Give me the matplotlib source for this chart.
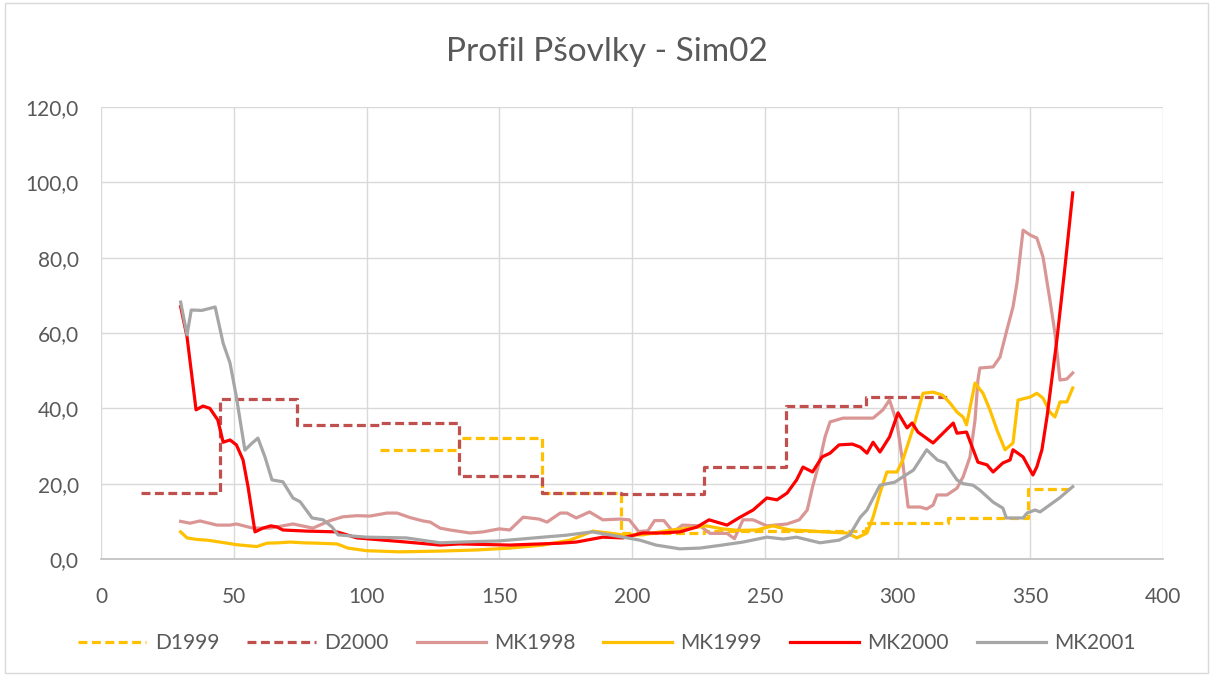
import matplotlib.pyplot as plt
from matplotlib.patches import Rectangle

plt.rcParams['font.family'] = ['Lato', 'DejaVu Sans']

# stepped series: start day of each level, level value
d1999_days = [105, 135, 166, 196, 227, 258, 288, 319, 349, 366]
d1999_vals = [28.9, 32.2, 17.5, 7.0, 7.5, 7.5, 9.5, 10.9, 18.5]
d2000_days = [15, 45, 74, 105, 135, 166, 196, 227, 258, 288, 319]
d2000_vals = [17.5, 42.5, 35.5, 36.0, 22.0, 17.5, 17.2, 24.5, 40.7, 43.0]

mk1998_x = [30, 33.5, 37.3, 43.7, 48.6, 51, 57.2, 63.7, 72.3, 79.8, 86.3, 91.1, 96.4, 101.3,
            107.7, 111.5, 116.4, 121.3, 124, 127.7, 131.5, 139, 143.9, 150, 154, 159, 165,
            168, 173, 175.5, 179, 184, 189, 195.5, 199, 202.5, 206, 208.5, 212, 215.5, 219,
            225.6, 229.4, 235.8, 238.6, 241.8, 245.6, 250.8, 258.4, 263, 266, 268, 270.8,
            272.7, 274.6, 279.5, 290.8, 294.5, 297, 299.8, 302, 304, 308.5, 311, 313.4,
            314.9, 318.6, 322.4, 324.7, 327.3, 329.2, 330.3, 331, 336, 338.6, 341.2, 343.5,
            345, 347.3, 350, 352.5, 354.8, 357.4, 359.3, 361.2, 363.8, 366]
mk1998_y = [10.0, 9.5, 10.1, 9.0, 9.0, 9.3, 8.2, 8.2, 9.3, 8.2, 10.2, 11.2, 11.5, 11.4,
            12.2, 12.2, 11.0, 10.1, 9.8, 8.2, 7.7, 6.9, 7.2, 8.0, 7.7, 11.1, 10.6,
            9.8, 12.2, 12.2, 10.9, 12.5, 10.4, 10.6, 10.4, 7.3, 7.5, 10.2, 10.2, 7.2, 9.0,
            8.8, 6.8, 6.8, 5.4, 10.4, 10.4, 8.8, 9.3, 10.4, 13.0, 19.1, 26.3,
            32.4, 36.4, 37.4, 37.4, 39.6, 42.2, 36.1, 25.5, 13.8, 13.8, 13.3, 14.3,
            17.0, 17.0, 18.8, 21.8, 27.1, 36.9, 47.5, 50.7, 51.0, 53.6, 60.8, 66.9,
            73.3, 87.3, 86.0, 85.2, 80.2, 68.8, 60.0, 47.5, 47.8, 49.4]

mk1999_x = [30, 32.4, 36, 40, 44.8, 51, 58.7, 62.5, 67, 71.2, 76, 81.4, 88.9, 93, 100,
            112.6, 127.7, 141.6, 154, 166.5, 176.6, 185.3, 190, 196.6, 204, 210.5, 216,
            221.8, 228, 234, 240, 247, 253, 259.5, 266, 272, 281, 284.7, 288.5, 290.8,
            293.4, 296, 299.8, 302, 306, 309.6, 313.4, 317, 319.8, 322.4, 324.7, 326,
            329.2, 332.2, 334.8, 337.5, 340.5, 343.5, 345.4, 350, 352.5, 354.8, 357.4,
            359.3, 361.2, 363.8, 366]
mk1999_y = [7.2, 5.6, 5.2, 5.0, 4.5, 3.8, 3.3, 4.2, 4.3, 4.5, 4.3, 4.2, 4.0, 2.9, 2.2,
            1.9, 2.1, 2.4, 2.9, 3.7, 5.0, 7.4, 7.0, 6.4, 6.4, 7.2, 7.8,
            8.2, 8.8, 8.0, 7.6, 7.7, 8.8, 7.7, 7.5, 7.2, 6.9, 5.6, 6.9, 11.1,
            17.5, 23.1, 23.1, 26.3, 35.0, 44.0, 44.3, 43.5, 41.4, 39.0, 37.7, 35.6,
            46.7, 44.0, 39.6, 34.2, 29.0, 30.8, 42.2, 43.0, 44.0, 42.7, 39.0,
            37.7, 41.7, 41.7, 45.4]

mk2000_x = [30, 32.4, 35.8, 38.4, 41, 44, 46, 48.6, 51, 53.5, 55.4, 58, 61, 64, 66.3,
            68.5, 77.6, 88.9, 96.4, 115, 127.7, 135, 154, 173, 179, 189, 196.6, 204,
            210.5, 218, 224.5, 229, 235.8, 240.7, 245.6, 250.8, 254.6, 258.4, 262, 264.4,
            268, 271.6, 274.6, 278, 283, 286, 288.5, 290.8, 293.4, 297, 300.2, 303.6,
            305.5, 307.7, 313.4, 321, 322.4, 326, 330.3, 333.7, 336, 339.7, 342.4, 343.5,
            347.3, 351, 352.5, 354.4, 356.3, 360, 363, 366]
mk2000_y = [67.0, 59.0, 39.6, 40.6, 40.0, 36.9, 31.0, 31.6, 30.3, 26.3, 19.1, 7.2, 8.2, 8.8, 8.5,
            7.7, 7.4, 7.2, 5.6, 4.5, 3.7, 4.0, 3.7, 4.2, 4.5, 5.8, 5.6, 6.9,
            6.9, 7.2, 8.5, 10.4, 9.0, 11.1, 13.0, 16.2, 15.7, 17.5, 21.0, 24.4,
            23.1, 27.1, 28.1, 30.3, 30.5, 29.7, 28.1, 31.0, 28.4, 32.4, 38.8, 34.8,
            36.1, 33.7, 30.8, 36.1, 33.4, 33.7, 25.7, 25.0, 23.1, 25.5, 26.3, 29.0,
            27.1, 22.3, 24.5, 29.0, 37.7, 58.0, 77.0, 97.2]

mk2001_x = [30, 32.4, 34, 38, 43, 46, 48.6, 51, 54.2, 56.5, 59.1, 61.8, 64.4, 68.5, 72.3,
            75, 79.5, 83.7, 87, 89.3, 100, 115, 127.7, 140, 150, 166.5, 175, 185, 196.6,
            203, 209, 218, 225.6, 234, 241.8, 250.8, 257, 262, 270.8, 278, 282, 286,
            288.5, 293.4, 299, 302, 306, 311, 315, 318, 322.4, 324.7, 328.4, 331, 336,
            339.7, 341, 347.3, 348.8, 351.8, 353.7, 361, 366]
mk2001_y = [68.2, 59.5, 66.1, 66.0, 66.9, 57.3, 52.0, 43.0, 28.9, 30.5, 32.1, 27.0, 21.0, 20.5, 16.2,
            15.2, 10.9, 10.4, 8.5, 6.4, 5.8, 5.6, 4.3, 4.6, 4.8, 5.8, 6.3, 7.2, 5.8,
            5.0, 3.7, 2.7, 2.9, 3.7, 4.5, 5.8, 5.3, 5.8, 4.3, 5.0, 6.4, 11.1,
            13.0, 19.6, 20.4, 21.8, 23.6, 29.0, 26.3, 25.5, 21.0, 20.0, 19.6, 18.3, 15.1,
            13.5, 10.9, 10.9, 12.2, 13.0, 12.5, 16.2, 19.2]

fig = plt.figure(figsize=(12.13, 6.76), dpi=100)
ax = fig.add_axes([101 / 1213, 1 - 559 / 676, (1163 - 101) / 1213, (559 - 107) / 676])

dash = (0, (2.8, 1.4))
lw = 2.3
ax.plot(d1999_days, d1999_vals + [d1999_vals[-1]], drawstyle='steps-post',
        color='#FFC000', lw=lw, ls=dash, label='D1999')
ax.plot(d2000_days, d2000_vals + [d2000_vals[-1]], drawstyle='steps-post',
        color='#C0504D', lw=lw, ls=dash, label='D2000')
ax.plot(mk1998_x, mk1998_y, color='#D99694', lw=lw, label='MK1998')
ax.plot(mk1999_x, mk1999_y, color='#FFC000', lw=lw, label='MK1999')
ax.plot(mk2000_x, mk2000_y, color='#FF0000', lw=lw, label='MK2000')
ax.plot(mk2001_x, mk2001_y, color='#A6A6A6', lw=lw, label='MK2001')

ax.set_xlim(0, 400)
ax.set_ylim(0, 120)
ax.set_xticks(range(0, 401, 50))
ax.set_yticks(range(0, 121, 20))
ax.set_yticklabels([f'{v:.1f}'.replace('.', ',') for v in range(0, 121, 20)])
ax.grid(True, color='#D9D9D9', lw=1)
ax.set_axisbelow(True)
for s in ['top', 'right', 'left']:
    ax.spines[s].set_visible(False)
ax.spines['bottom'].set_color('#BFBFBF')
ax.spines['bottom'].set_linewidth(1.2)
ax.tick_params(length=0, labelsize=15, colors='#595959')
ax.tick_params(axis='x', pad=20)
ax.tick_params(axis='y', pad=16)

fig.text(0.5, 1 - 52 / 676, 'Profil Pšovlky - Sim02', ha='center', va='center',
         fontsize=24, color='#595959')

fig.legend(loc='center', bbox_to_anchor=(0.5, 1 - 643 / 676), ncol=6, frameon=False,
           fontsize=15, labelcolor='#595959', handlelength=3.3, handletextpad=0.4,
           columnspacing=1.35)

fig.patches.append(Rectangle((0.004, 0.004), 0.992, 0.992, transform=fig.transFigure,
                             fill=False, edgecolor='#D9D9D9', lw=1))

fig.savefig('out.png', dpi=100)
